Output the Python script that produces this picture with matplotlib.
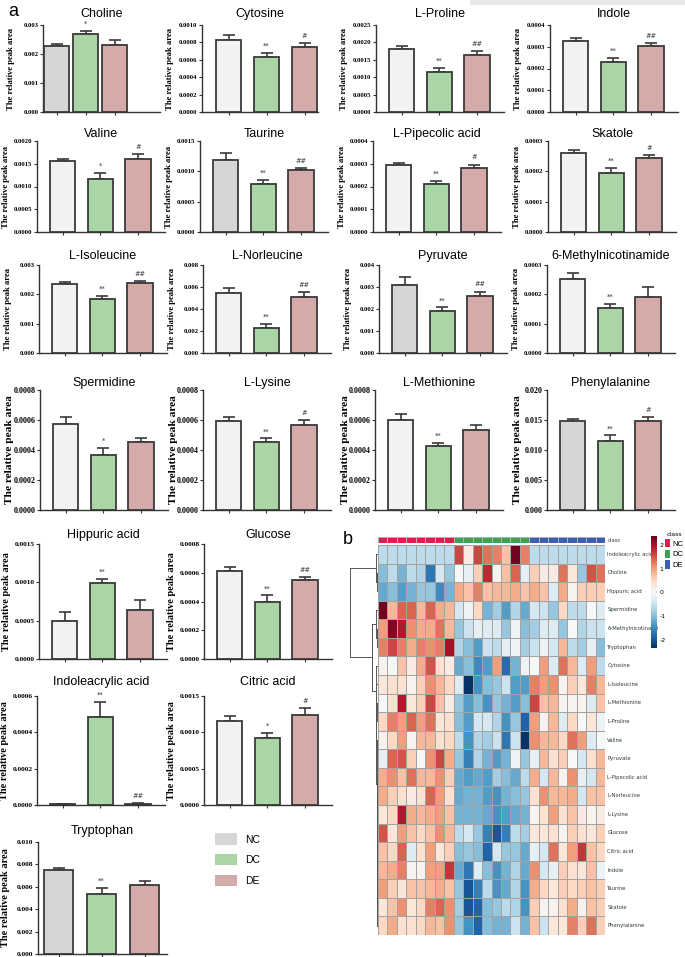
import numpy as np
import matplotlib
matplotlib.use("Agg")
import matplotlib.pyplot as plt
from matplotlib.ticker import FormatStrFormatter
from matplotlib.patches import Patch, Rectangle
from matplotlib.colors import ListedColormap, Normalize
from matplotlib.cm import ScalarMappable

# ---------------- data: bar panels (panel a) ----------------
groups = ["NC", "DC", "DE"]
titles = ["Choline", "Cytosine", "L-Proline", "Indole",
          "Valine", "Taurine", "L-Pipecolic acid", "Skatole",
          "L-Isoleucine", "L-Norleucine", "Pyruvate", "6-Methylnicotinamide",
          "Spermidine", "L-Lysine", "L-Methionine", "Phenylalanine",
          "Hippuric acid", "Glucose", "Indoleacrylic acid", "Citric acid",
          "Tryptophan"]
nc_mean = [0.00226, 0.000825, 0.001805, 0.000325, 0.001564, 0.001186, 0.000294, 0.000261,
           0.00235, 0.00547, 0.00309, 0.000251, 0.000571, 0.000594, 0.000602, 0.0149,
           0.000500, 0.000609, 0.000003, 0.00116, 0.00752]
nc_err = [0.00009, 0.000055, 0.00010, 0.000014, 0.00005, 0.00012, 0.000011, 0.000008,
          0.00006, 0.00042, 0.00036, 0.000023, 0.000051, 0.000029, 0.000037, 0.0003,
          0.000114, 0.000031, 0.000002, 0.00006, 0.00018]
dc_mean = [0.00268, 0.000632, 0.001146, 0.000231, 0.001164, 0.000794, 0.000212, 0.000194,
           0.00184, 0.00229, 0.00191, 0.000154, 0.000367, 0.000453, 0.000430, 0.01142,
           0.000996, 0.000400, 0.000484, 0.00092, 0.00537]
dc_err = [0.00012, 0.000045, 0.00011, 0.000017, 0.00014, 0.00007, 0.000014, 0.000017,
          0.00012, 0.00039, 0.00016, 0.000014, 0.000049, 0.000024, 0.000015, 0.0010,
          0.000054, 0.000042, 0.000081, 0.00007, 0.00051]
de_mean = [0.00231, 0.000745, 0.00165, 0.000302, 0.001607, 0.001015, 0.000280, 0.000244,
           0.00237, 0.00512, 0.00257, 0.000190, 0.000456, 0.000567, 0.000531, 0.0149,
           0.000636, 0.000551, 0.000008, 0.001236, 0.00612]
de_err = [0.00017, 0.000045, 0.00010, 0.000014, 0.00010, 0.000035, 0.000016, 0.000009,
          0.00009, 0.00044, 0.00022, 0.000034, 0.000022, 0.000033, 0.000035, 0.0006,
          0.000132, 0.000019, 0.000004, 0.00010, 0.00036]
dc_sig = ["*", "**", "**", "**", "*", "**", "**", "**", "**", "**", "**", "**",
          "*", "**", "**", "**", "**", "**", "**", "*", "**"]
de_sig = ["", "#", "##", "##", "#", "##", "#", "#", "##", "##", "##", "",
          "", "#", "", "#", "", "##", "##", "#", ""]
y_max = [0.003, 0.0010, 0.0025, 0.0004, 0.0020, 0.0015, 0.0004, 0.0003,
         0.003, 0.008, 0.004, 0.0003, 0.0008, 0.0008, 0.0008, 0.020,
         0.0015, 0.0008, 0.0006, 0.0015, 0.010]
y_step = [0.001, 0.0002, 0.0005, 0.0001, 0.0005, 0.0005, 0.0001, 0.0001,
          0.001, 0.002, 0.001, 0.0001, 0.0002, 0.0002, 0.0002, 0.005,
          0.0005, 0.0002, 0.0002, 0.0005, 0.002]
y_dec = [3, 4, 4, 4, 4, 4, 4, 4, 3, 3, 3, 4, 4, 4, 4, 3, 4, 4, 4, 4, 3]
nc_dark = [True, False, False, False, False, True, False, False, False, False, True, False,
           False, False, False, True, False, False, False, False, True]

# ---------------- data: heatmap (panel b) ----------------
heat_rows = ["Indoleacrylic acid", "Choline", "Hippuric acid", "Spermidine",
             "6-Methylnicotinami", "Tryptophan", "Cytosine", "L-Isoleucine",
             "L-Methionine", "L-Proline", "Valine", "Pyruvate", "L-Pipecolic acid",
             "L-Norleucine", "L-Lysine", "Glucose", "Citric acid", "Indole",
             "Taurine", "Skatole", "Phenylalanine"]
heat_classes = ["NC"] * 8 + ["DC"] * 8 + ["DE"] * 8
heat_values = [
    [-0.6, -0.6, -0.6, -0.6, -0.6, -0.6, -0.6, -0.6, 1.6, 0.2, 1.6, 1.3, 1.2, 0.7, 2.3, 1.2, -0.6, -0.6, -0.6, -0.6, -0.6, -0.6, -0.6, -0.6],
    [-1.0, -0.6, -1.1, -0.6, -0.7, -1.7, -0.4, -0.9, 0.0, -0.2, 0.6, 1.8, 0.1, 0.7, 1.4, -0.2, 0.6, 0.2, 0.2, 1.3, 0.3, -0.9, 1.5, 1.3],
    [-1.2, -1.0, -1.3, -1.1, -0.9, -0.9, -1.5, -1.1, 0.9, 0.7, 1.2, 0.7, 0.8, 0.8, 0.9, 0.7, 0.9, 0.7, -0.3, 0.9, 0.1, 0.6, 0.6, 0.6],
    [2.3, 0.8, 1.4, 1.4, 0.8, 1.4, 0.9, 0.8, -0.4, -0.1, 0.5, -1.1, -0.8, -1.3, -0.7, -1.2, -0.4, -0.5, -0.9, 0.5, -0.6, -0.6, 0.0, -0.3],
    [1.0, 2.2, 1.9, 1.1, 0.9, 0.9, 1.3, 0.8, -0.9, -0.5, -0.2, -0.3, -0.3, -0.9, -0.1, -1.0, -0.8, -0.3, -0.3, -0.9, 0.0, -0.7, -0.5, -0.5],
    [1.2, 1.6, 1.2, 0.9, 1.2, 1.1, 1.2, 2.0, -0.7, -1.0, -1.3, -0.5, -0.6, -0.2, -0.1, -0.8, -0.5, -0.1, -0.4, 0.8, -0.6, -0.8, -0.2, -1.0],
    [0.1, 0.0, 0.7, 0.2, 0.9, 1.5, 0.4, 0.2, -1.2, -1.0, -1.5, -1.3, 1.0, -1.8, -1.1, -0.1, 0.0, 1.0, -0.3, 1.3, 0.8, -0.3, 1.0, -0.6],
    [0.3, 0.4, 0.4, 0.1, 0.6, 1.1, 0.8, 0.5, -0.3, -2.3, -1.4, -1.0, -0.9, -0.5, -1.3, -1.3, 1.2, 1.0, 1.1, 0.1, 0.6, 0.3, 1.2, 0.8],
    [0.0, 0.4, 1.9, 0.3, 0.6, 1.6, 0.7, 0.2, -0.9, -1.3, -1.0, -1.4, -0.9, -1.1, -1.3, -1.0, 1.6, 0.7, 0.8, 0.1, 0.1, 0.1, -0.3, 0.7],
    [0.5, 1.2, 1.0, 1.4, 1.0, 1.3, 0.3, 0.4, -1.0, -1.3, -0.4, -0.4, -0.7, -1.4, -0.9, -1.9, 1.0, 0.1, 0.8, -0.3, 0.5, 0.0, 0.3, -0.1],
    [0.1, 0.5, 1.0, 0.1, 0.8, 0.8, 0.4, 0.5, -0.6, -1.4, -0.7, -0.8, -0.5, -1.7, -0.5, -2.3, 1.1, 0.8, 0.8, 0.5, 1.3, 1.0, -0.3, 0.0],
    [-0.2, 1.4, 1.5, 0.6, 0.0, 1.1, 1.6, 0.9, -0.9, -1.6, -0.7, -1.1, -1.3, -1.1, -0.1, -0.9, -0.2, 0.8, 0.4, 0.6, 0.0, -0.4, 0.4, 0.8],
    [0.9, 1.1, 0.7, 1.3, 0.8, 0.8, 1.1, 0.6, -1.2, -1.3, -1.2, -1.3, -0.8, -1.0, -1.2, -0.6, 0.9, -0.4, 0.8, 0.1, 1.1, -0.2, -0.4, 0.8],
    [0.9, 0.6, 0.4, 0.2, 0.4, 1.4, 1.0, 0.4, -1.2, -1.1, -1.1, -1.3, -1.4, -1.1, -1.0, -0.9, 0.4, 1.1, 0.8, 0.8, 0.9, -0.4, 0.7, 0.7],
    [0.3, 0.5, 1.9, 0.9, 0.8, 0.9, 1.0, 0.7, -1.1, -1.1, -1.1, -1.2, -1.4, -1.3, -1.2, -1.1, 0.1, 0.4, 1.0, 0.4, 0.7, 0.2, 0.1, 0.2],
    [1.5, 0.3, 1.0, 0.7, 0.5, 0.7, 1.1, 0.8, -0.6, -0.4, -0.9, -1.6, -2.0, -1.6, -0.6, -0.8, 0.3, 0.3, 0.4, 0.1, 0.6, 0.4, 0.3, 0.6],
    [0.7, 0.5, 1.4, -0.3, 0.4, 1.0, 0.3, 0.6, -1.0, -0.9, -1.0, -1.9, -0.4, -0.9, -0.9, -1.2, -0.2, -0.4, 1.3, 0.3, 1.0, 1.7, 0.7, 0.5],
    [0.8, 0.9, 1.2, 0.1, 0.1, 1.0, 1.0, 1.7, -1.2, -1.7, -0.3, -1.0, -1.4, -1.1, -0.7, -1.2, 1.1, -0.4, -0.2, 0.6, 0.4, 0.3, 0.7, -0.1],
    [1.0, 0.6, 0.3, 0.7, 0.7, 0.8, 0.9, 0.7, -0.9, -2.0, -1.6, -0.6, -1.4, -1.2, -0.7, -1.4, 0.9, 0.5, 0.3, 0.6, 0.5, 0.6, 0.7, 0.6],
    [0.3, 0.7, 1.1, 0.3, 0.5, 1.2, 1.4, 1.1, -0.8, -2.0, -1.9, -1.0, -0.9, -0.6, -0.7, -1.4, 0.6, 0.1, 0.1, 0.4, 0.9, 0.1, 0.7, 0.6],
    [0.5, 0.9, 0.4, 0.4, 0.5, 0.8, 0.7, 1.1, -0.9, -1.4, -1.9, -1.0, -1.1, -1.1, -0.5, -1.1, 0.7, -0.5, 0.3, 0.3, 1.2, 0.6, 1.3, 0.6],
]
# row dendrogram merges (leaf/node a, leaf/node b, height); new nodes numbered from 21
row_links = [(1, 2, 0.4), (0, 21, 0.7), (4, 5, 0.45), (3, 23, 0.7),
             (19, 20, 0.2), (18, 25, 0.25), (16, 17, 0.25), (27, 26, 0.3),
             (14, 15, 0.25), (29, 28, 0.35), (12, 13, 0.25), (31, 30, 0.4),
             (10, 11, 0.25), (33, 32, 0.45), (8, 9, 0.3), (35, 34, 0.5),
             (7, 36, 0.55), (6, 37, 0.6),
             (24, 38, 2.0), (22, 39, 9.0)]

# ---------------- style / layout ----------------
W, H = 685, 957
fig = plt.figure(figsize=(W / 100, H / 100), dpi=100)
fig.patch.set_facecolor("white")


def rect(l, t, w, h):
    return [l / W, 1 - (t + h) / H, w / W, h / H]


# faint grey strip along the top right edge of the original scan
fig.patches.append(Rectangle((470 / W, 1 - 5 / H), 215 / W, 5 / H, transform=fig.transFigure,
                             facecolor="#e8e8e8", edgecolor="none", zorder=0))

NC_LIGHT, NC_GRAY = "#f2f2f2", "#d5d7d5"
DC_COL, DE_COL = "#a9d6a4", "#d5abaa"
EDGE = "#3a3a3a"
SERIF = ["Liberation Serif", "DejaVu Serif"]
SANS = ["Liberation Sans", "DejaVu Sans"]

row_tops = [25, 141, 265, 390, 544, 696, 842]
row_heights = [87, 91, 88, 120, 115, 109, 112]
row_lefts = [[43, 202, 376, 550], [37, 200, 373, 548], [39, 203, 379, 547],
             [40, 203, 375, 547], [39, 204], [37, 204], [38]]
label_fs = [6.2, 6.2, 6.2, 8.2, 7.4, 7.4, 7.4]
tick_fs = [4.8, 4.8, 4.8, 5.8, 5.3, 5.3, 5.3]
label_off = [32, 31, 31, 30, 32, 32, 32]     # px from axis to y-label centre
title_pad = [6, 3, 4, 3, 4, 8, 6]

k = 0
for r, lefts in enumerate(row_lefts):
    for l in lefts:
        name = titles[k]
        wpx = 128
        xl = (-0.68, 2.72)
        bw = 0.67
        if name == "Choline":
            wpx, xl, bw = 117, (-0.47, 3.57), 0.86
        elif name == "Cytosine":
            wpx, xl = 116, (-0.70, 2.35)
        elif name == "Tryptophan":
            wpx, xl = 129, (-0.48, 2.52)
        ax = fig.add_axes(rect(l, row_tops[r], wpx, row_heights[r]))
        x = np.arange(3)
        vals = [nc_mean[k], dc_mean[k], de_mean[k]]
        errs = [nc_err[k], dc_err[k], de_err[k]]
        cols = [NC_GRAY if nc_dark[k] else NC_LIGHT, DC_COL, DE_COL]
        ax.bar(x, vals, width=bw, color=cols, edgecolor=EDGE, linewidth=1.3, zorder=3)
        ax.errorbar(x, vals, yerr=[np.zeros(3), errs], fmt="none", ecolor=EDGE,
                    elinewidth=1.2, capsize=4, capthick=1.2, zorder=2)
        for xi, v, e, s in zip(x, vals, errs, ["", dc_sig[k], de_sig[k]]):
            if s:
                ax.annotate(s, (xi, v + e), xytext=(0, 3), textcoords="offset points",
                            ha="center", va="bottom", fontsize=4.8, color="#333333",
                            annotation_clip=False)
        ax.set_xlim(*xl)
        ax.set_ylim(0, y_max[k])
        ax.set_yticks(np.arange(0, y_max[k] + y_step[k] / 2, y_step[k]))
        ax.yaxis.set_major_formatter(FormatStrFormatter("%%.%df" % y_dec[k]))
        ax.set_xticks(x)
        ax.set_xticklabels([])
        for sp in ["top", "right"]:
            ax.spines[sp].set_visible(False)
        for sp in ["left", "bottom"]:
            ax.spines[sp].set_linewidth(1.0)
            ax.spines[sp].set_color("#333333")
        ax.tick_params(axis="both", length=2.2, width=0.8, color="#333333", pad=1)
        for lab in ax.get_yticklabels():
            lab.set_fontfamily(SERIF)
            lab.set_fontweight("bold")
            lab.set_fontsize(tick_fs[r])
        ax.set_ylabel("The relative peak area", fontfamily=SERIF, fontweight="bold",
                      fontsize=label_fs[r], va="center")
        ax.yaxis.set_label_coords(-label_off[r] / wpx, 0.5)
        ax.set_title(name, fontfamily=SANS, fontsize=9, pad=title_pad[r])
        k += 1

# legend for the bar panels
fig.legend(handles=[Patch(facecolor=NC_GRAY, edgecolor="none"),
                    Patch(facecolor=DC_COL, edgecolor="none"),
                    Patch(facecolor=DE_COL, edgecolor="none")],
           labels=groups, loc="upper left", bbox_to_anchor=(206 / W, 1 - 824 / H),
           frameon=False, prop={"family": SANS, "size": 7.5},
           handlelength=2.1, handleheight=1.3, labelspacing=0.9, handletextpad=0.8)

fig.text(8 / W, 1 - 12 / H, "a", fontsize=13, fontfamily=SANS, va="center", ha="left")
fig.text(343 / W, 1 - 540 / H, "b", fontsize=13, fontfamily=SANS, va="center", ha="left")

# ---------------- heatmap ----------------
HL, HT, HW, HH = 378, 545, 227, 390
vals = np.array(heat_values)
nrow, ncol = vals.shape
hx = fig.add_axes(rect(HL, HT, HW, HH))
hx.pcolormesh(vals, cmap="RdBu_r", vmin=-2.35, vmax=2.38,
              edgecolors="#a3a3a3", linewidth=0.5)
hx.set_xlim(0, ncol)
hx.set_ylim(nrow, 0)
hx.axis("off")
LABFONT = ["Liberation Sans Narrow", "DejaVu Sans"]
for i, lab in enumerate(heat_rows):
    hx.text(ncol + 0.25, i + 0.5, lab, va="center", ha="left", fontsize=3.8,
            color="#2f3f2f", fontfamily=LABFONT, clip_on=False)

# class annotation bar
class_colors = {"NC": "#d8204f", "DC": "#3ba34e", "DE": "#3d5eb2"}
cx = fig.add_axes(rect(HL, 537, HW, 6))
class_idx = np.array([[groups.index(c) for c in heat_classes]])
cx.pcolormesh(class_idx, cmap=ListedColormap([class_colors[g] for g in groups]),
              vmin=-0.5, vmax=2.5, edgecolors="#b0b0b0", linewidth=0.4)
cx.set_xlim(0, ncol)
cx.axis("off")
cx.text(ncol + 0.25, 0.5, "class", va="center", ha="left", fontsize=3.8,
        color="#2f3f2f", fontfamily=LABFONT)

# dendrogram
dx = fig.add_axes(rect(350, HT, 28, HH))
pos = {i: i + 0.5 for i in range(nrow)}
hgt = {i: 0.0 for i in range(nrow)}
for n, (a, b, h) in enumerate(row_links):
    node = nrow + n
    for c in (a, b):
        dx.plot([hgt[c], h], [pos[c], pos[c]], color="#555555", lw=0.7)
    dx.plot([h, h], [pos[a], pos[b]], color="#555555", lw=0.7)
    pos[node] = (pos[a] + pos[b]) / 2
    hgt[node] = h
dx.set_ylim(nrow, 0)
dx.set_xlim(max(l[2] for l in row_links) * 1.01, 0)
dx.axis("off")

# colorbar
cb_ax = fig.add_axes(rect(651, 536, 6, 112))
cb = fig.colorbar(ScalarMappable(norm=Normalize(-2.35, 2.38), cmap="RdBu_r"),
                  cax=cb_ax, ticks=[-2, -1, 0, 1, 2])
cb.outline.set_visible(False)
cb_ax.tick_params(length=0, labelsize=4.5, pad=2)
cb_ax.set_yticklabels(["-2", "-1", "0", "1", "2"])

# class legend
fig.legend(handles=[Patch(facecolor=class_colors[g], edgecolor="none") for g in groups],
           labels=groups, title="class", loc="upper left",
           bbox_to_anchor=(665 / W, 1 - 532 / H), frameon=False,
           prop={"family": SANS, "size": 5.5}, title_fontsize=4.5,
           handlelength=0.7, handleheight=1.3, labelspacing=0.25, handletextpad=0.3,
           borderaxespad=0, borderpad=0)

fig.savefig("out.png", dpi=100, facecolor="white")
